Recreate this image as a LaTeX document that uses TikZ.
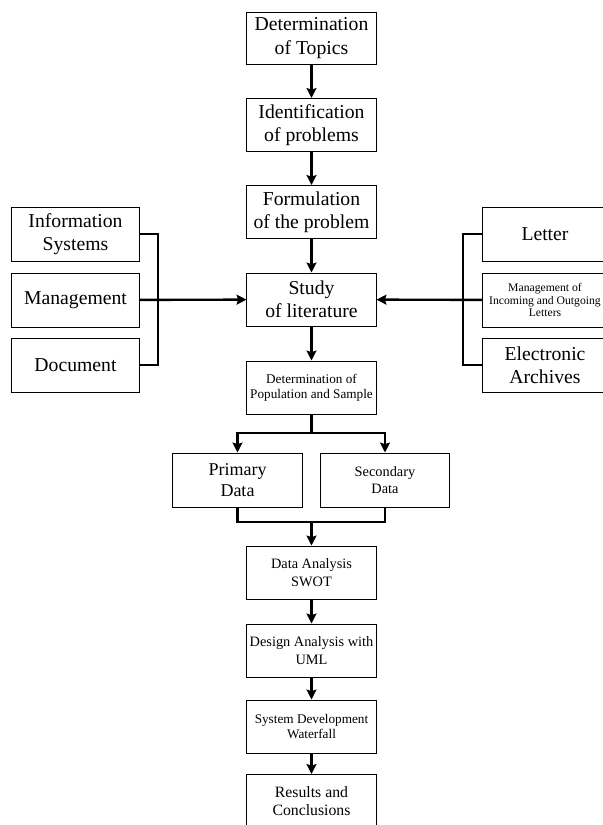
\documentclass[tikz,border=0pt]{standalone}
\usepackage{fontspec}
\setmainfont{Liberation Serif}
\usetikzlibrary{arrows.meta}

\begin{document}
\begin{tikzpicture}[x=0.025cm, y=-0.025cm,
  box/.style={draw, line width=0.7pt, minimum width=3.225cm, minimum height=1.325cm, align=center, inner sep=1pt},
  big/.style={font=\fontsize{14}{16.5}\selectfont},
  prim/.style={font=\fontsize{12.8}{14.7}\selectfont},
  mid/.style={font=\fontsize{10.2}{12.5}\selectfont},
  small/.style={font=\fontsize{9.4}{11}\selectfont},
  tiny/.style={font=\fontsize{8.3}{9}\selectfont},
  link/.style={line width=1.7pt, line join=miter},
  arrow/.style={link, -{Stealth[length=7pt,width=7pt,inset=1pt]}}]
\clip (0,0) rectangle (603,825);

\node[box, big, minimum height=1.3cm] (topics) at (311.5,38) {Determination\\of Topics};
\node[box, big] (ident) at (311.5,125) {Identification\\of problems};
\node[box, big] (form) at (311.5,212) {Formulation\\of the problem};
\node[box, big] (study) at (311.5,299.5) {Study\\of literature};
\node[box, small] (pop) at (311.5,387.5) {Determination of\\Population and Sample};

\node[box, prim, minimum height=1.35cm] (primary) at (237.5,480) {Primary\\Data};
\node[box, mid, minimum height=1.35cm] (secondary) at (385,480) {Secondary\\Data};

\node[box, mid] (swot) at (311.5,572.5) {Data Analysis\\SWOT};
\node[box, mid] (uml) at (311.5,650.5) {Design Analysis with\\UML};
\node[box, small] (waterfall) at (311.5,726.5) {System Development\\Waterfall};
\node[box, font=\fontsize{11.2}{12.5}\selectfont] (results) at (311.5,801) {Results and\\Conclusions};

\node[box, big, minimum width=3.175cm, minimum height=1.35cm] (infosys) at (75.5,234) {Information\\Systems};
\node[box, big, minimum width=3.175cm, minimum height=1.35cm] (mgmt) at (75.5,300) {Management};
\node[box, big, minimum width=3.175cm, minimum height=1.35cm] (doc) at (75.5,365) {Document};

\node[box, big, minimum width=3.1cm, minimum height=1.35cm] (letter) at (545,234) {Letter};
\node[box, tiny, minimum width=3.1cm, minimum height=1.35cm] (incoming) at (545,300) {Management of\\Incoming and Outgoing\\Letters};
\node[box, big, minimum width=3.1cm, minimum height=1.35cm] (archives) at (545,365) {Electronic\\Archives};

\coordinate (split) at (311.5,433);
\coordinate (merge) at (311.5,522);
\coordinate (lbus) at (158,300);
\coordinate (rbus) at (463,300);

\draw[arrow] (topics) -- (ident);
\draw[arrow] (ident) -- (form);
\draw[arrow] (form) -- (study);
\draw[arrow] (study) -- (pop);

\draw[link] (pop) -- (split);
\draw[arrow] (split) -| (primary);
\draw[arrow] (split) -| (secondary);
\draw[link] (primary) |- (merge);
\draw[link] (secondary) |- (merge);
\draw[arrow] (merge) -- (swot);

\draw[arrow] (swot) -- (uml);
\draw[arrow] (uml) -- (waterfall);
\draw[arrow] (waterfall) -- (results);

\draw[link] (infosys.east) -| (lbus) |- (doc.east);
\draw[arrow] (mgmt) -- (study);
\draw[link] (letter.west) -| (rbus) |- (archives.west);
\draw[arrow] (incoming) -- (study);
\end{tikzpicture}
\end{document}
